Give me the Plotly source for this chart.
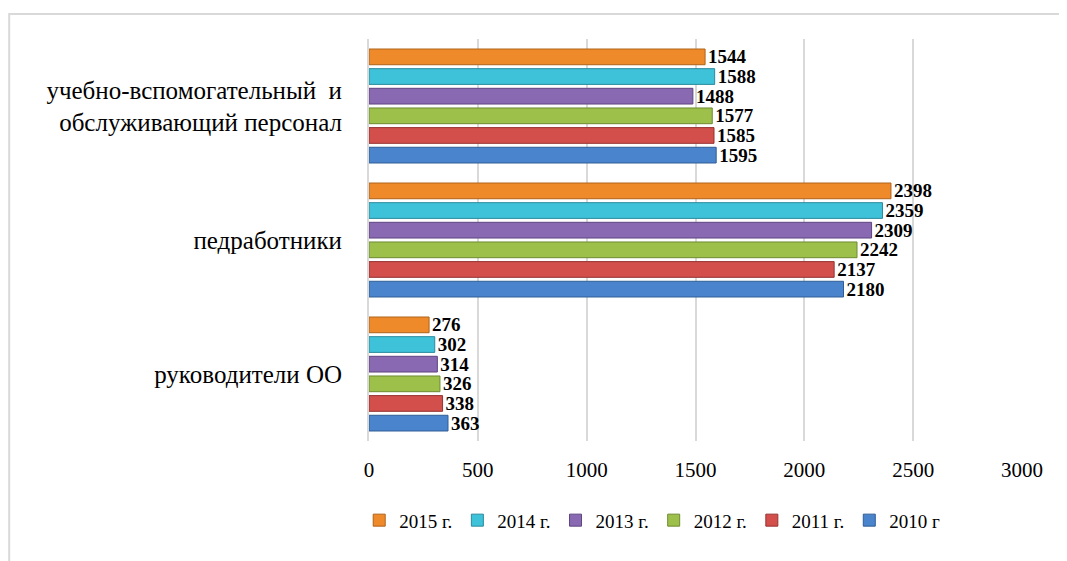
import plotly.graph_objects as go

categories = ["руководители ОО", "педработники",
              "учебно-вспомогательный  и<br>обслуживающий персонал"]
series_names = ["2010 г", "2011 г.", "2012 г.", "2013 г.", "2014 г.", "2015 г."]
v2010 = [363, 2180, 1595]
v2011 = [338, 2137, 1585]
v2012 = [326, 2242, 1577]
v2013 = [314, 2309, 1488]
v2014 = [302, 2359, 1588]
v2015 = [276, 2398, 1544]
values = [v2010, v2011, v2012, v2013, v2014, v2015]
colors = ["#4A84CC", "#D24F4C", "#9CC04A", "#8A69B3", "#3EC2DA", "#EE8A2A"]
edges = ["#2F5E96", "#963331", "#6E8B30", "#5E4580", "#2A8A9C", "#B0621A"]

SERIF = "Times New Roman, Liberation Serif, serif"

fig = go.Figure()
for name, vals, c, e in zip(series_names, values, colors, edges):
    fig.add_trace(go.Bar(
        y=categories, x=vals, name=name, orientation="h",
        marker=dict(color=c, line=dict(color=e, width=1)),
        text=[str(v) for v in vals], textposition="outside",
        constraintext="none",
        textfont=dict(family=SERIF, size=19, color="black"),
        texttemplate="<b>%{text}</b>", cliponaxis=False,
    ))

fig.update_layout(
    width=1067, height=561,
    paper_bgcolor="white", plot_bgcolor="white",
    margin=dict(l=361, r=53, t=31, b=128),
    barmode="group", bargap=0.12, bargroupgap=0.2,
    font=dict(family=SERIF, size=20, color="black"),
    showlegend=True,
    legend=dict(orientation="h", traceorder="reversed",
                x=-0.015, xanchor="left", y=-0.15, yanchor="top",
                font=dict(family=SERIF, size=19, color="black"),
                itemwidth=30, tracegroupgap=0),
    xaxis=dict(range=[0, 3000], dtick=500, showgrid=True,
               gridcolor="#D9D9D9", gridwidth=2, zeroline=False,
               showline=False, ticks="", ticklabelstandoff=14,
               tickfont=dict(family=SERIF, size=21, color="black")),
    yaxis=dict(type="category", showgrid=False, showline=True,
               linecolor="#D9D9D9", linewidth=2, ticks="",
               ticklabelstandoff=20,
               tickfont=dict(family=SERIF, size=25, color="black")),
    shapes=[dict(type="rect", xref="paper", yref="paper",
                 x0=-0.551, x1=1.2, y0=-0.4, y1=1.062,
                 line=dict(color="#D9D9D9", width=2), layer="below")],
)

fig.write_html("out.html")
